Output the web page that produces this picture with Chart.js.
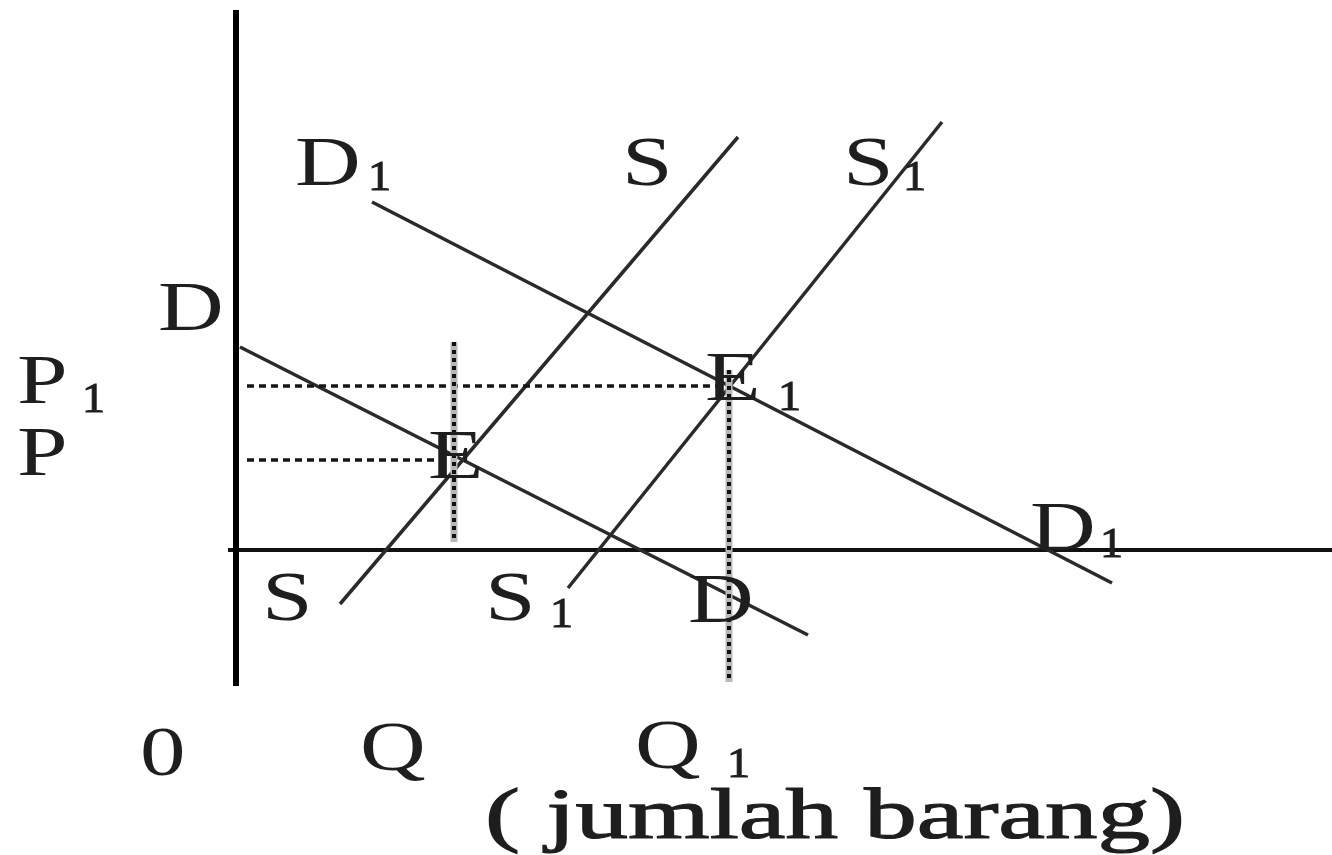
<!DOCTYPE html>
<html>
<head>
<meta charset="utf-8">
<script src="https://cdn.jsdelivr.net/npm/chart.js@4/dist/chart.umd.min.js"></script>
<style>
  html, body { margin: 0; padding: 0; background: #fff; }
  canvas { display: block; }
</style>
</head>
<body>
<canvas id="myChart" width="1332" height="855"></canvas>
<script>
// values (quantity on x, price on y, origin at O)
const axisPrice = [{x: 0.1, y: 54.0}, {x: 0.1, y: -13.6}];
const axisQty = [{x: -0.7, y: 0}, {x: 109.7, y: 0}];

const demandD = [{x: 0.5, y: 20.3}, {x: 57.3, y: -8.5}];
const demandD1 = [{x: 13.7, y: 34.8}, {x: 87.7, y: -3.3}];
const supplyS = [{x: 10.5, y: -5.4}, {x: 50.3, y: 41.3}];
const supplyS1 = [{x: 33.3, y: -3.8}, {x: 70.7, y: 42.8}];

const guideP = [{x: 1.2, y: 9.0}, {x: 21.5, y: 9.0}];
const guideP1 = [{x: 1.2, y: 16.4}, {x: 48.8, y: 16.4}];
const guideQ = [{x: 21.9, y: 20.8}, {x: 21.9, y: 0.8}];
const guideQ1 = [{x: 49.4, y: 18.0}, {x: 49.4, y: -13.2}];

// text labels: [text, x, y] (left / baseline)
const bigLabels = [
  ["D", 6.0, 36.5], ["S", 38.7, 36.5], ["S", 60.8, 36.5],
  ["D", -7.7, 22.0], ["P", -21.8, 14.7], ["P", -21.8, 7.5],
  ["E", 19.3, 7.2], ["E", 47.0, 15.0], ["D", 79.5, 0.0],
  ["S", 2.7, -7.0], ["S", 25.0, -7.0], ["D", 45.3, -7.2],
  ["0", -9.5, -22.5], ["Q", 12.5, -22.0], ["Q", 40.0, -21.8]
];
const subLabels = [
  ["1", 13.3, 36.0], ["1", 66.8, 36.0], ["1", -15.3, 13.8],
  ["1", 54.3, 14.0], ["1", 86.5, -0.7], ["1", 31.5, -7.7],
  ["1", 49.2, -22.7]
];
const axisTitle = ["( jumlah barang)", 25.0, -28.8];

function seg(data, color, width, dash) {
  return {
    data: data,
    showLine: true,
    borderColor: color,
    borderWidth: width,
    borderDash: dash || [],
    pointRadius: 0,
    fill: false
  };
}

const textPlugin = {
  id: 'textLabels',
  afterDatasetsDraw(chart) {
    const ctx = chart.ctx;
    const xs = chart.scales.x, ys = chart.scales.y;
    function put(t, x, y, font, stretch, heavy) {
      ctx.save();
      ctx.font = font;
      ctx.fillStyle = '#1e1e1e';
      ctx.strokeStyle = '#1e1e1e';
      ctx.lineWidth = heavy || 0;
      ctx.textBaseline = 'alphabetic';
      ctx.translate(xs.getPixelForValue(x), ys.getPixelForValue(y));
      ctx.scale(stretch, 1);
      ctx.fillText(t, 0, 0);
      if (heavy) ctx.strokeText(t, 0, 0);
      ctx.restore();
    }
    bigLabels.forEach(l => put(l[0], l[1], l[2], '70px "Liberation Serif"', 1.3));
    subLabels.forEach(l => put(l[0], l[1], l[2], '42px "Liberation Serif"', 1.1, 1));
    // stretch the axis title to its width in the picture
    ctx.font = '72px "Liberation Serif"';
    const w = ctx.measureText(axisTitle[0]).width;
    put(axisTitle[0], axisTitle[1], axisTitle[2], '72px "Liberation Serif"', 700 / w, 1.2);
  }
};

// chart.js paints the first dataset on top, so marks go from top layer down
new Chart(document.getElementById('myChart'), {
  type: 'scatter',
  data: {
    datasets: [
      seg(guideQ, '#111', 4, [4, 4]),
      seg(guideQ1, '#111', 4, [4, 4]),
      seg(guideQ, '#b8b8b8', 7),
      seg(guideQ1, '#b8b8b8', 7),
      seg(guideP, '#151515', 3.5, [7, 5]),
      seg(guideP1, '#151515', 3.5, [7, 5]),
      seg(demandD, '#2a2a2a', 3.5),
      seg(demandD1, '#2a2a2a', 3.5),
      seg(supplyS, '#2a2a2a', 3.5),
      seg(supplyS1, '#2a2a2a', 3.5),
      seg(axisPrice, '#000', 6),
      seg(axisQty, '#111', 4)
    ]
  },
  options: {
    responsive: false,
    animation: false,
    layout: { padding: 0 },
    scales: {
      x: { type: 'linear', display: false, min: -23.5, max: 109.7 },
      y: { type: 'linear', display: false, min: -30.5, max: 55.0 }
    },
    plugins: {
      legend: { display: false },
      tooltip: { enabled: false }
    }
  },
  plugins: [textPlugin]
});
</script>
</body>
</html>
